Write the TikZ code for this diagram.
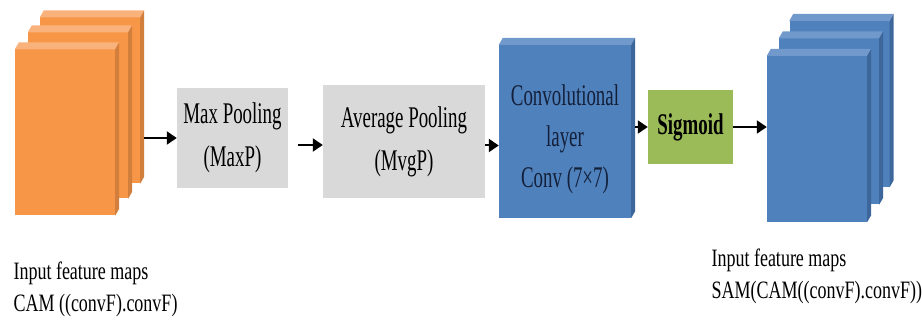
\documentclass[tikz,border=0pt]{standalone}
\usepackage{fontspec}
\setmainfont{Liberation Serif}[FakeStretch=0.72]
\newfontfamily\boxfam{Liberation Serif}[FakeStretch=0.63]
\usetikzlibrary{positioning}
\usetikzlibrary{arrows.meta}

\definecolor{camorange}{HTML}{F79646}
\definecolor{camtop}{HTML}{FAB27C}
\definecolor{camside}{HTML}{D27E3C}
\definecolor{sambleu}{HTML}{4F81BD}
\definecolor{samtop}{HTML}{7299CB}
\definecolor{samside}{HTML}{3D679B}
\definecolor{poolgray}{HTML}{D9D9D9}
\definecolor{siggreen}{HTML}{9BBB59}
\definecolor{convtext}{HTML}{14203A}

\newcommand{\boxfont}{\boxfam\fontsize{30}{43}\selectfont}
\newcommand{\labfont}{\fontsize{25}{32}\selectfont}

% light top face and dark right face of a block
\newcommand{\bevel}[3]{%
  \fill[#2] (#1.north west) -- ++(4pt,7pt) -- ([shift={(4pt,7pt)}]#1.north east) -- (#1.north east) -- cycle;
  \fill[#3] (#1.north east) -- ++(4pt,7pt) -- ([shift={(4pt,7pt)}]#1.south east) -- (#1.south east) -- cycle;}

\begin{document}
\begin{tikzpicture}[x=1pt,y=1pt,
    featmap/.style={rectangle, inner sep=0pt, minimum width=100pt, minimum height=166pt},
    opbox/.style={rectangle, inner sep=0pt, align=center, font=\boxfont},
    arr/.style={-{Triangle[length=10pt,width=13pt]}, line width=2pt}]

    \useasboundingbox (0,0) rectangle (922,331);

    % input feature maps (CAM output)
    \foreach \i/\px/\py in {3/90/230.5, 2/78/215.5, 1/65/198.5}{
        \node[featmap, fill=camorange] (in\i) at (\px,\py) {};
        \bevel{in\i}{camtop}{camside}
    }

    \node[opbox, fill=poolgray, minimum width=111pt, minimum height=100pt] (maxp) at (232.5,193) {Max Pooling\\(MaxP)};
    \node[opbox, fill=poolgray, minimum width=162pt, minimum height=113pt] (avgp) at (404,189.5) {Average Pooling\\(MvgP)};

    \node[opbox, fill=sambleu, minimum width=132pt, minimum height=173pt,
          label={[align=center, text=convtext, yshift=-8pt, font=\boxfam\fontsize{30}{41}\selectfont]center:Convolutional\\layer\\Conv (7×7)}]
          (conv) at (565,199.5) {};
    \bevel{conv}{samtop}{samside}

    \node[opbox, fill=siggreen, minimum width=85pt, minimum height=74pt, font=\boxfont\bfseries] (sig) at (690.5,204) {Sigmoid};

    % output feature maps (SAM output)
    \foreach \i/\px/\py in {3/839.5/227, 2/829/209.5, 1/817/192}{
        \node[featmap, fill=sambleu] (out\i) at (\px,\py) {};
        \bevel{out\i}{samtop}{samside}
    }

    \draw[arr] ([xshift=4pt]in3.east |- maxp.west) -- (maxp.west);
    \draw[arr, shorten <=10pt] ([yshift=-7pt]maxp.east) -- ([yshift=-7pt]maxp.east -| avgp.west);
    \draw[arr] ([yshift=-4pt]avgp.east) -- ([yshift=-4pt]avgp.east -| conv.west);
    \draw[arr] ([xshift=4pt]conv.east |- sig.west) -- (sig.west);
    \draw[arr] (sig.east) -- (sig.east -| out1.west);

    \node[anchor=west, align=left, font=\labfont] (inlabel) at (10,42) {Input feature maps\\CAM ((convF).convF)};
    \node[anchor=west, align=left, font=\labfont] (outlabel) at (708,54.5) {Input feature maps\\SAM(CAM((convF).convF))};
\end{tikzpicture}
\end{document}
